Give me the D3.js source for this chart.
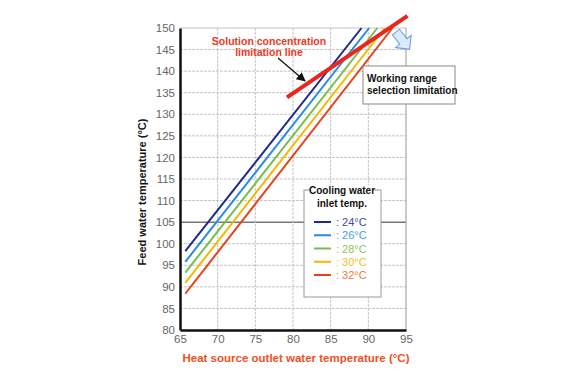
<!DOCTYPE html>
<html>
<head>
<meta charset="utf-8">
<script src="https://cdn.jsdelivr.net/npm/d3@7"></script>
<style>
  body { margin: 0; background: #fff; }
  svg text { font-family: "Liberation Sans", Arial, sans-serif; }
</style>
</head>
<body>
<div id="chart"></div>
<script>
// Cooling water inlet temps (legend)
var seriesNames = ["24", "26", "28", "30", "32"];
var lineColors = ["#1f2a8c", "#2a8be0", "#78bd4c", "#f5b800", "#e8401c"];
var textColors = ["#3d4aa8", "#3c9fe6", "#8cc65c", "#f2bf1a", "#ef7a3c"];

// each line: start point and end point (heat source temp, feed water temp)
var seriesX = [[65.7, 89.1], [65.7, 90.1], [65.7, 91.2], [65.7, 92.2], [65.7, 93.2]];
var seriesY = [[98.3, 150], [95.8, 150], [93.3, 150], [90.9, 150], [88.4, 150]];

// solution concentration limitation line
var limitX = [79.2, 95.2];
var limitY = [133.9, 152.8];

var xTicks = [65, 70, 75, 80, 85, 90, 95];
var yTicks = [80, 85, 90, 95, 100, 105, 110, 115, 120, 125, 130, 135, 140, 145, 150];

var W = 580, H = 386;
var plotL = 180, plotR = 406, plotT = 28, plotB = 330;

var svg = d3.select("#chart").append("svg")
    .attr("width", W)
    .attr("height", H);

var x = d3.scaleLinear().domain([65, 95]).range([plotL, plotR]);
var y = d3.scaleLinear().domain([80, 150]).range([plotB, plotT]);

// grid
var grid = svg.append("g");
grid.selectAll(".hg")
    .data(yTicks.filter(function(d) { return d > 80; }))
    .enter().append("line")
    .attr("x1", plotL).attr("x2", plotR)
    .attr("y1", function(d) { return y(d); })
    .attr("y2", function(d) { return y(d); })
    .attr("stroke", function(d) { return d == 105 ? "#777" : "#c4c4c4"; })
    .attr("stroke-width", function(d) { return d == 105 ? 1.5 : 1; })
    .attr("stroke-dasharray", function(d) { return d == 105 || d == 150 ? null : "3,1"; });

grid.selectAll(".vg")
    .data(xTicks.filter(function(d) { return d > 65; }))
    .enter().append("line")
    .attr("y1", plotT).attr("y2", plotB)
    .attr("x1", function(d) { return x(d); })
    .attr("x2", function(d) { return x(d); })
    .attr("stroke", function(d) { return d == 95 ? "#999" : "#c4c4c4"; })
    .attr("stroke-dasharray", function(d) { return d == 95 ? null : "3,1"; });

// axes
var xAxis = svg.append("g")
    .attr("transform", "translate(0," + plotB + ")")
    .call(d3.axisBottom(x).tickValues(xTicks).tickSize(0).tickPadding(5));
var yAxis = svg.append("g")
    .attr("transform", "translate(" + plotL + ",0)")
    .call(d3.axisLeft(y).tickValues(yTicks).tickSize(0).tickPadding(5));

[xAxis, yAxis].forEach(function(a) {
  a.select(".domain").attr("stroke", "#111").attr("stroke-width", 2.5);
  a.selectAll("text")
      .attr("fill", "#666")
      .style("font-size", "11.5px");
});

// series lines
var line = d3.line()
    .x(function(d) { return x(d[0]); })
    .y(function(d) { return y(d[1]); });

seriesNames.forEach(function(name, i) {
  var pts = seriesX[i].map(function(v, j) { return [v, seriesY[i][j]]; });
  svg.append("path")
      .datum(pts)
      .attr("d", line)
      .attr("fill", "none")
      .attr("stroke", lineColors[i])
      .attr("stroke-width", 2);
});

// limitation line
svg.append("path")
    .datum(limitX.map(function(v, j) { return [v, limitY[j]]; }))
    .attr("d", line)
    .attr("fill", "none")
    .attr("stroke", "#e8261c")
    .attr("stroke-width", 4);

// annotation: solution concentration
var note = svg.append("text")
    .attr("text-anchor", "middle")
    .attr("fill", "#ec3a22")
    .style("font-size", "10.5px")
    .style("font-weight", "bold");
note.append("tspan").attr("x", 269).attr("y", 45).text("Solution concentration");
note.append("tspan").attr("x", 269).attr("y", 56).text("limitation line");

svg.append("defs").append("marker")
    .attr("id", "ah")
    .attr("viewBox", "0 0 10 10")
    .attr("refX", 9).attr("refY", 5)
    .attr("markerWidth", 7).attr("markerHeight", 7)
    .attr("orient", "auto")
    .append("path")
    .attr("d", "M0,0L10,5L0,10Z")
    .attr("fill", "#111");

svg.append("line")
    .attr("x1", 278).attr("y1", 58)
    .attr("x2", 305).attr("y2", 81)
    .attr("stroke", "#111")
    .attr("stroke-width", 1.3)
    .attr("marker-end", "url(#ah)");

// blue block arrow
svg.append("path")
    .attr("d", "M0,-4.5L12,-4.5L12,-10L22,0L12,10L12,4.5L0,4.5Z")
    .attr("transform", "translate(396,32) rotate(52)")
    .attr("fill", "#dcebfa")
    .attr("stroke", "#6a9be0")
    .attr("stroke-width", 1);

// working range box
svg.append("rect")
    .attr("x", 363).attr("y", 66)
    .attr("width", 92).attr("height", 38)
    .attr("fill", "#fff")
    .attr("stroke", "#888");
var wr = svg.append("text")
    .attr("fill", "#111")
    .style("font-size", "10px")
    .style("font-weight", "bold");
wr.append("tspan").attr("x", 367).attr("y", 82).text("Working range");
wr.append("tspan").attr("x", 367).attr("y", 94).text("selection limitation");

// legend
var lg = svg.append("g");
lg.append("rect")
    .attr("x", 304).attr("y", 190)
    .attr("width", 77).attr("height", 107)
    .attr("fill", "#fff")
    .attr("stroke", "#999");
lg.append("rect")
    .attr("x", 311).attr("y", 185)
    .attr("width", 62).attr("height", 10)
    .attr("fill", "#fff");
var lt = lg.append("text")
    .attr("text-anchor", "middle")
    .attr("fill", "#111")
    .style("font-size", "10px")
    .style("font-weight", "bold");
lt.append("tspan").attr("x", 342).attr("y", 194).text("Cooling water");
lt.append("tspan").attr("x", 342).attr("y", 207).text("inlet temp.");

var rowY = d3.scalePoint().domain(seriesNames).range([222, 275]);
seriesNames.forEach(function(name, i) {
  lg.append("line")
      .attr("x1", 314).attr("x2", 331)
      .attr("y1", rowY(name)).attr("y2", rowY(name))
      .attr("stroke", lineColors[i])
      .attr("stroke-width", 2);
  lg.append("text")
      .attr("x", 336).attr("y", rowY(name) + 4)
      .attr("fill", textColors[i])
      .style("font-size", "11px")
      .text(": " + name + "°C");
});

// axis titles
svg.append("text")
    .attr("transform", "translate(146,192) rotate(-90)")
    .attr("text-anchor", "middle")
    .attr("fill", "#111")
    .style("font-size", "11px")
    .style("font-weight", "bold")
    .text("Feed water temperature (°C)");

svg.append("text")
    .attr("x", 296).attr("y", 362)
    .attr("text-anchor", "middle")
    .attr("fill", "#f0501e")
    .style("font-size", "11.5px")
    .style("font-weight", "bold")
    .text("Heat source outlet water temperature (°C)");
</script>
</body>
</html>
